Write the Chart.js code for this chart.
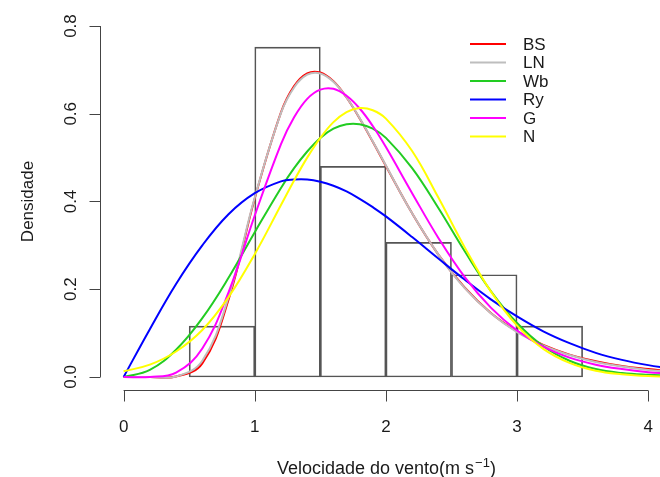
<!DOCTYPE html>
<html>
<head>
<meta charset="utf-8">
<script src="https://cdn.jsdelivr.net/npm/chart.js@4.4.1/dist/chart.umd.min.js"></script>
<style>
  body { margin: 0; background: #fff; }
  #wrap { width: 660px; height: 477px; }
</style>
</head>
<body>
<div id="wrap"><canvas id="chartCanvas" width="660" height="477"></canvas></div>
<script>
// Pontos em x onde as curvas foram lidas
const xs = [0, 0.2, 0.4, 0.6, 0.8, 1.0, 1.2, 1.3, 1.4, 1.5, 1.6, 1.7, 1.8, 1.9, 2.0, 2.2, 2.4, 2.6, 2.8, 3.0, 3.2, 3.4, 3.6, 3.8, 4.0, 4.2];

// Densidades ajustadas
const bsVals = [0, 0, 0.001, 0.031, 0.176, 0.407, 0.603, 0.663, 0.692, 0.694, 0.674, 0.637, 0.589, 0.536, 0.481, 0.373, 0.279, 0.204, 0.146, 0.104, 0.073, 0.051, 0.036, 0.025, 0.018, 0.012];
const lnVals = [0, 0, 0.001, 0.037, 0.182, 0.409, 0.602, 0.660, 0.689, 0.692, 0.673, 0.637, 0.590, 0.537, 0.482, 0.373, 0.279, 0.203, 0.145, 0.102, 0.072, 0.050, 0.034, 0.024, 0.016, 0.011];
const wbVals = [0, 0.016, 0.062, 0.134, 0.226, 0.330, 0.431, 0.476, 0.514, 0.545, 0.566, 0.576, 0.576, 0.566, 0.545, 0.476, 0.385, 0.287, 0.196, 0.123, 0.070, 0.037, 0.018, 0.009, 0.005, 0.003];
const ryVals = [0, 0.109, 0.212, 0.300, 0.371, 0.419, 0.446, 0.450, 0.450, 0.445, 0.436, 0.423, 0.406, 0.387, 0.366, 0.319, 0.270, 0.222, 0.177, 0.138, 0.104, 0.077, 0.055, 0.039, 0.027, 0.018];
const gVals  = [0, 0, 0.010, 0.065, 0.193, 0.368, 0.531, 0.592, 0.634, 0.655, 0.657, 0.641, 0.612, 0.572, 0.524, 0.419, 0.317, 0.228, 0.158, 0.106, 0.069, 0.044, 0.028, 0.018, 0.011, 0.007];
const nVals  = [0.013, 0.028, 0.058, 0.107, 0.182, 0.280, 0.392, 0.448, 0.500, 0.545, 0.581, 0.604, 0.613, 0.608, 0.589, 0.515, 0.409, 0.296, 0.195, 0.117, 0.064, 0.032, 0.014, 0.006, 0.002, 0.001];

// Histograma (limites das classes e densidade)
const breaks = [0.5, 1, 1.5, 2, 2.5, 3, 3.5];
const density = [0.116, 0.752, 0.480, 0.307, 0.233, 0.116];

// Eixos
const xTicks = [0, 1, 2, 3, 4];
const xTickLabels = ['0', '1', '2', '3', '4'];
const yTicks = [0, 0.2, 0.4, 0.6, 0.8];
const yTickLabels = ['0.0', '0.2', '0.4', '0.6', '0.8'];

const seriesNames = ['BS', 'LN', 'Wb', 'Ry', 'G', 'N'];
const seriesVals = [bsVals, lnVals, wbVals, ryVals, gVals, nVals];
const seriesColors = ['#ff0000', '#bebebe', '#22cc22', '#0000ff', '#ff00ff', '#ffff00'];

const FONT = '"Liberation Sans", Arial, Helvetica, sans-serif';

// Eixos no estilo do R (linha só entre o primeiro e o último tick)
const rAxes = {
    id: 'rAxes',
    afterDraw(chart) {
        const ctx = chart.ctx;
        const sx = chart.scales.x, sy = chart.scales.y, area = chart.chartArea;
        ctx.save();
        ctx.strokeStyle = '#444';
        ctx.lineWidth = 1;
        ctx.fillStyle = '#1a1a1a';

        // eixo x
        const yAx = area.bottom - 0.5;
        ctx.beginPath();
        ctx.moveTo(sx.getPixelForValue(xTicks[0]), yAx);
        ctx.lineTo(sx.getPixelForValue(xTicks[xTicks.length - 1]), yAx);
        xTicks.forEach(t => {
            const px = Math.round(sx.getPixelForValue(t)) + 0.5;
            ctx.moveTo(px, yAx);
            ctx.lineTo(px, yAx + 11);
        });
        // eixo y
        const xAx = area.left + 0.5;
        ctx.moveTo(xAx, sy.getPixelForValue(yTicks[0]));
        ctx.lineTo(xAx, sy.getPixelForValue(yTicks[yTicks.length - 1]));
        yTicks.forEach(t => {
            const py = Math.round(sy.getPixelForValue(t)) + 0.5;
            ctx.moveTo(xAx, py);
            ctx.lineTo(xAx - 11, py);
        });
        ctx.stroke();

        ctx.font = '17px ' + FONT;
        ctx.textAlign = 'center';
        ctx.textBaseline = 'alphabetic';
        xTicks.forEach((t, i) => {
            ctx.fillText(xTickLabels[i], sx.getPixelForValue(t), 432);
        });
        yTicks.forEach((t, i) => {
            ctx.save();
            ctx.translate(76, sy.getPixelForValue(t));
            ctx.rotate(-Math.PI / 2);
            ctx.fillText(yTickLabels[i], 0, 0);
            ctx.restore();
        });

        // título y
        ctx.save();
        ctx.translate(33, sy.getPixelForValue(0.4));
        ctx.rotate(-Math.PI / 2);
        ctx.fillText('Densidade', 0, 0);
        ctx.restore();

        // título x com expoente
        const main = 'Velocidade do vento(m s';
        const sup = '\u22121';
        ctx.font = '18px ' + FONT;
        const w1 = ctx.measureText(main).width;
        const w3 = ctx.measureText(')').width;
        ctx.font = '13px ' + FONT;
        const w2 = ctx.measureText(sup).width;
        let x0 = sx.getPixelForValue(2) - (w1 + w2 + w3) / 2;
        ctx.textAlign = 'left';
        ctx.font = '18px ' + FONT;
        ctx.fillText(main, x0, 474);
        ctx.font = '13px ' + FONT;
        ctx.fillText(sup, x0 + w1 + 1, 467);
        ctx.font = '18px ' + FONT;
        ctx.fillText(')', x0 + w1 + w2 + 1, 474);

        // legenda
        ctx.font = '17px ' + FONT;
        ctx.textBaseline = 'middle';
        ctx.lineWidth = 2;
        seriesNames.forEach((name, i) => {
            const ly = 44 + i * 18.5;
            ctx.strokeStyle = seriesColors[i];
            ctx.beginPath();
            ctx.moveTo(470, ly);
            ctx.lineTo(506, ly);
            ctx.stroke();
            ctx.fillText(name, 523, ly + 1);
        });
        ctx.restore();
    }
};

const histData = density.map((d, i) => ({ x: (breaks[i] + breaks[i + 1]) / 2, y: d }));

const datasets = [{
    type: 'bar',
    label: 'hist',
    data: histData,
    backgroundColor: 'rgba(255,255,255,0)',
    borderColor: '#555',
    borderWidth: 1,
    borderSkipped: false,
    barPercentage: 1,
    categoryPercentage: 1,
    order: 10
}];

seriesNames.forEach((name, i) => {
    datasets.push({
        type: 'line',
        label: name,
        data: xs.map((x, j) => ({ x: x, y: seriesVals[i][j] })),
        borderColor: seriesColors[i],
        borderWidth: 2,
        pointRadius: 0,
        tension: 0.4,
        fill: false,
        order: 6 - i
    });
});

const ctx = document.getElementById('chartCanvas').getContext('2d');
const chart = new Chart(ctx, {
    data: { datasets: datasets },
    options: {
        responsive: false,
        devicePixelRatio: 1,
        animation: false,
        layout: { padding: { top: 12, left: 0, right: 0, bottom: 0 } },
        plugins: { legend: { display: false }, tooltip: { enabled: false } },
        scales: {
            x: {
                type: 'linear',
                offset: false,
                min: -0.18,
                max: 4.09,
                grid: { display: false, offset: false },
                border: { display: false },
                ticks: { display: false },
                afterFit: s => { s.height = 86; }
            },
            y: {
                type: 'linear',
                min: -0.032,
                max: 0.832,
                grid: { display: false },
                border: { display: false },
                ticks: { display: false },
                afterFit: s => { s.width = 100; }
            }
        }
    },
    plugins: [rAxes]
});
</script>
</body>
</html>
